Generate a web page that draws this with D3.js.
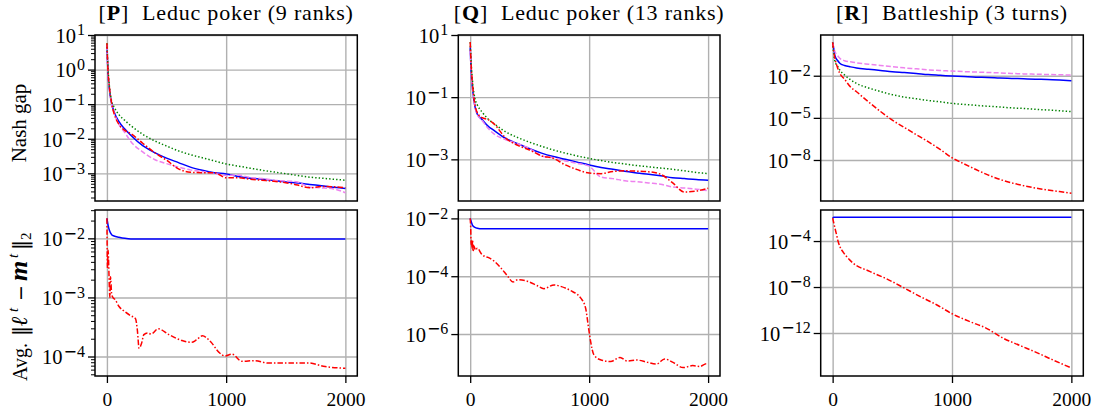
<!DOCTYPE html>
<html><head><meta charset="utf-8">
<script src="https://cdn.jsdelivr.net/npm/d3@7"></script>
<style>
body{margin:0;background:#fff;}
svg{display:block;font-family:"Liberation Serif","Times New Roman",serif;}
</style></head><body>
<svg id="c" width="1098" height="413"></svg>
<script>
// ---- data (values are log10 of the plotted quantity) ----
const iters = [0,10,20,40,60,100,150,200,300,400,500,600,700,800,900,1000,1100,1200,1300,1400,1500,1600,1700,1800,1900,2000];
const xTicks = [0, 1000, 2000];

// [P] Leduc poker (9 ranks) — Nash gap
const pGapBlue   = [0.7,-0.15,-0.55,-0.98,-1.22,-1.5,-1.72,-1.9,-2.2,-2.4,-2.56,-2.69,-2.82,-2.91,-2.98,-3.02,-3.09,-3.14,-3.17,-3.21,-3.25,-3.28,-3.32,-3.36,-3.4,-3.44];
const pGapViolet = [0.7,-0.15,-0.55,-1.0,-1.25,-1.58,-1.82,-2.08,-2.38,-2.6,-2.72,-2.82,-2.9,-2.95,-3.0,-3.06,-3.05,-3.12,-3.15,-3.2,-3.22,-3.25,-3.4,-3.42,-3.45,-3.56];
const pGapGreen  = [0.76,0.0,-0.45,-0.92,-1.08,-1.3,-1.47,-1.62,-1.87,-2.06,-2.21,-2.35,-2.46,-2.55,-2.64,-2.73,-2.79,-2.85,-2.91,-2.96,-3.01,-3.06,-3.11,-3.14,-3.17,-3.2];
const pGapRed    = [0.76,-0.1,-0.48,-0.98,-1.27,-1.58,-1.76,-1.85,-2.13,-2.4,-2.62,-2.87,-2.97,-2.98,-2.98,-3.13,-3.13,-3.17,-3.2,-3.23,-3.27,-3.34,-3.42,-3.38,-3.39,-3.42];
// [P] — Avg. ||l - m||
const pDiffBlue  = [-1.66,-1.78,-1.86,-1.94,-1.96,-1.98,-2.0,-2.01,-2.01,-2.01,-2.01,-2.01,-2.01,-2.01,-2.01,-2.01,-2.01,-2.01,-2.01,-2.01,-2.01,-2.01,-2.01,-2.01,-2.01,-2.01];
const pDiffRedIters = [0,5,10,15,20,25,30,40,50,70,100,150,200,240,255,270,290,310,340,370,430,520,630,710,750,800,870,940,990,1050,1130,1240,1350,1500,1690,1830,2000];
const pDiffRed      = [-1.66,-2.5,-2.2,-2.45,-2.8,-3.0,-2.65,-2.95,-3.0,-3.04,-3.15,-3.24,-3.31,-3.36,-3.55,-3.86,-3.78,-3.63,-3.6,-3.62,-3.53,-3.63,-3.73,-3.76,-3.72,-3.65,-3.75,-3.93,-3.99,-3.96,-4.08,-4.07,-4.11,-4.11,-4.11,-4.17,-4.2];

// [Q] Leduc poker (13 ranks) — Nash gap
const qGapBlue   = [0.6,-0.3,-0.75,-1.3,-1.55,-1.72,-1.93,-2.07,-2.33,-2.5,-2.66,-2.8,-2.91,-3.0,-3.09,-3.18,-3.26,-3.32,-3.38,-3.44,-3.48,-3.53,-3.59,-3.62,-3.65,-3.67];
const qGapViolet = [0.5,-0.3,-0.75,-1.3,-1.55,-1.75,-2.0,-2.18,-2.37,-2.5,-2.65,-2.89,-2.95,-3.05,-3.13,-3.22,-3.57,-3.62,-3.69,-3.72,-3.76,-3.8,-3.89,-3.92,-3.96,-4.01];
const qGapGreen  = [0.77,0.0,-0.5,-1.05,-1.25,-1.48,-1.7,-1.85,-2.12,-2.3,-2.45,-2.58,-2.7,-2.8,-2.89,-2.97,-3.04,-3.1,-3.15,-3.2,-3.24,-3.28,-3.32,-3.37,-3.42,-3.46];
const qGapRed    = [0.77,-0.1,-0.6,-1.25,-1.5,-1.66,-1.72,-1.86,-2.32,-2.55,-2.7,-2.89,-2.97,-3.18,-3.33,-3.44,-3.46,-3.39,-3.37,-3.38,-3.4,-3.48,-3.75,-4.05,-4.02,-3.93];
// [Q] — Avg. ||l - m||
const qDiffBlue  = [-2.0,-2.13,-2.24,-2.31,-2.34,-2.36,-2.36,-2.36,-2.36,-2.36,-2.36,-2.36,-2.36,-2.36,-2.36,-2.36,-2.36,-2.36,-2.36,-2.36,-2.36,-2.36,-2.36,-2.36,-2.36,-2.36];
const qDiffRedIters = [0,4,8,12,16,20,25,30,45,60,95,120,150,205,260,315,360,400,485,565,620,705,760,845,930,970,995,1010,1040,1095,1180,1260,1320,1400,1485,1565,1635,1705,1790,1870,1930,1985,2000];
const qDiffRed      = [-2.0,-2.3,-2.91,-2.75,-3.08,-2.74,-3.14,-2.95,-3.1,-3.03,-3.23,-3.31,-3.35,-3.49,-3.72,-4.0,-4.2,-4.12,-4.18,-4.33,-4.43,-4.3,-4.35,-4.5,-4.76,-5.1,-5.79,-6.2,-6.72,-6.89,-6.95,-6.81,-6.93,-6.9,-6.97,-7.04,-6.86,-6.98,-7.16,-7.09,-7.12,-7.03,-7.03];

// [R] Battleship (3 turns) — Nash gap
const rGapBlue   = [0.37,-0.1,-0.6,-0.9,-1.11,-1.27,-1.37,-1.45,-1.54,-1.62,-1.71,-1.77,-1.84,-1.92,-1.97,-2.02,-2.06,-2.1,-2.12,-2.16,-2.19,-2.22,-2.25,-2.27,-2.31,-2.36];
const rGapViolet = [0.37,0.0,-0.3,-0.55,-0.76,-0.93,-1.01,-1.08,-1.18,-1.27,-1.36,-1.44,-1.51,-1.58,-1.63,-1.67,-1.71,-1.74,-1.77,-1.8,-1.84,-1.87,-1.89,-1.91,-1.93,-1.95];
const rGapGreen  = [0.37,-0.5,-1.0,-1.3,-1.6,-1.95,-2.28,-2.55,-2.87,-3.12,-3.35,-3.52,-3.64,-3.76,-3.86,-3.97,-4.04,-4.11,-4.17,-4.23,-4.29,-4.33,-4.39,-4.44,-4.49,-4.56];
const rGapRed    = [0.37,-0.3,-0.8,-1.4,-1.83,-2.25,-2.8,-3.14,-3.86,-4.54,-5.16,-5.68,-6.19,-6.7,-7.24,-7.84,-8.27,-8.68,-9.06,-9.38,-9.63,-9.83,-10.0,-10.13,-10.25,-10.37];
// [R] — Avg. ||l - m||
const rDiffBlue  = [-2.0,-1.93,-1.93,-1.93,-1.93,-1.93,-1.93,-1.93,-1.93,-1.93,-1.93,-1.93,-1.93,-1.93,-1.93,-1.93,-1.93,-1.93,-1.93,-1.93,-1.93,-1.93,-1.93,-1.93,-1.93,-1.93];
const rDiffRedIters = [0,10,20,33,45,60,90,115,170,310,450,590,730,870,1005,1145,1285,1425,1565,1705,1840,2000];
const rDiffRed      = [-2.0,-2.45,-2.9,-3.45,-4.0,-4.46,-4.99,-5.33,-5.91,-6.64,-7.28,-8.03,-8.81,-9.54,-10.35,-10.99,-11.57,-12.43,-13.07,-13.68,-14.32,-15.04];

// y-axis tick exponents
const pGapTicks = [1,0,-1,-2,-3], pDiffTicks = [-2,-3,-4];
const qGapTicks = [1,-1,-3],      qDiffTicks = [-2,-4,-6];
const rGapTicks = [-2,-5,-8],     rDiffTicks = [-4,-8,-12];

const titles = [["P","Leduc poker (9 ranks)"],["Q","Leduc poker (13 ranks)"],["R","Battleship (3 turns)"]];

// ---- styles ----
const STY = {
  blue:   {color:"#0000ff", dash:null},
  violet: {color:"#ee82ee", dash:"5,2.2"},
  green:  {color:"#008000", dash:"1.4,2.1"},
  red:    {color:"#ff0000", dash:"5.5,2,1.5,2"}
};

const cols = [{x0:95,x1:357.3},{x0:458.3,x1:720},{x0:820.7,x1:1083.3}];
const rows = [{y0:35,y1:201},{y0:210,y1:376}];

const panels = [
  {c:0,r:0,lo:-3.8,hi:1.0,ticks:pGapTicks,minor:true,series:[
    {k:"blue",x:iters,v:pGapBlue},{k:"violet",x:iters,v:pGapViolet},{k:"green",x:iters,v:pGapGreen},{k:"red",x:iters,v:pGapRed}]},
  {c:0,r:1,lo:-4.33,hi:-1.52,ticks:pDiffTicks,minor:true,series:[
    {k:"blue",x:iters,v:pDiffBlue},{k:"red",x:pDiffRedIters,v:pDiffRed}]},
  {c:1,r:0,lo:-4.34,hi:1.0,ticks:qGapTicks,minor:false,series:[
    {k:"blue",x:iters,v:qGapBlue},{k:"violet",x:iters,v:qGapViolet},{k:"green",x:iters,v:qGapGreen},{k:"red",x:iters,v:qGapRed}]},
  {c:1,r:1,lo:-7.45,hi:-1.71,ticks:qDiffTicks,minor:false,series:[
    {k:"blue",x:iters,v:qDiffBlue},{k:"red",x:qDiffRedIters,v:qDiffRed}]},
  {c:2,r:0,lo:-10.92,hi:0.9,ticks:rGapTicks,minor:false,series:[
    {k:"blue",x:iters,v:rGapBlue},{k:"violet",x:iters,v:rGapViolet},{k:"green",x:iters,v:rGapGreen},{k:"red",x:iters,v:rGapRed}]},
  {c:2,r:1,lo:-15.74,hi:-1.3,ticks:rDiffTicks,minor:false,series:[
    {k:"blue",x:iters,v:rDiffBlue},{k:"red",x:rDiffRedIters,v:rDiffRed}]}
];

const svg = d3.select("#c");
const TICK_FS = 20.5, SUP_FS = 16, XTICK_FS = 19.5;

panels.forEach((p,i)=>{
  const {x0,x1} = cols[p.c], {y0,y1} = rows[p.r];
  const x = d3.scaleLinear().domain([-100,2100]).range([x0,x1]);
  const y = d3.scaleLog().domain([Math.pow(10,p.lo),Math.pow(10,p.hi)]).range([y1,y0]);
  const g = svg.append("g");
  const majors = p.ticks.map(e=>Math.pow(10,e));

  // grid
  g.append("g").attr("transform",`translate(0,${y1})`)
    .call(d3.axisBottom(x).tickValues(xTicks).tickSize(-(y1-y0)).tickFormat(""))
    .call(s=>s.select(".domain").remove())
    .selectAll("line").attr("stroke","#b0b0b0").attr("stroke-width",1.4);
  g.append("g").attr("transform",`translate(${x0},0)`)
    .call(d3.axisLeft(y).tickValues(majors).tickSize(-(x1-x0)).tickFormat(""))
    .call(s=>s.select(".domain").remove())
    .selectAll("line").attr("stroke","#b0b0b0").attr("stroke-width",1.4);

  // clip
  const cid = "clip"+i;
  g.append("clipPath").attr("id",cid).append("rect")
    .attr("x",x0).attr("y",y0).attr("width",x1-x0).attr("height",y1-y0);

  const line = d3.line().x(d=>x(d[0])).y(d=>y(d[1])).curve(d3.curveMonotoneX);
  const lg = g.append("g").attr("clip-path",`url(#${cid})`);
  p.series.forEach(s=>{
    const pts = s.x.map((t,j)=>[t,Math.pow(10,s.v[j])]);
    const st = STY[s.k];
    lg.append("path").datum(pts).attr("d",line)
      .attr("fill","none").attr("stroke",st.color).attr("stroke-width",1.5)
      .attr("stroke-dasharray",st.dash).attr("stroke-linejoin","round");
  });

  // frame
  g.append("rect").attr("x",x0).attr("y",y0).attr("width",x1-x0).attr("height",y1-y0)
    .attr("fill","none").attr("stroke","#000").attr("stroke-width",1.5);

  // y axis major
  const ya = g.append("g").attr("transform",`translate(${x0},0)`)
    .call(d3.axisLeft(y).tickValues(majors).tickSize(7).tickPadding(3).tickFormat(""));
  ya.select(".domain").remove();
  ya.selectAll(".tick line").attr("stroke","#000").attr("stroke-width",1.3);
  ya.selectAll(".tick text").each(function(d){
    const e = Math.round(Math.log10(d));
    const t = d3.select(this).attr("font-family",'"Liberation Serif",serif').attr("font-size",TICK_FS).attr("fill","#000").attr("dy","0.36em");
    t.text(null);
    t.append("tspan").text("10");
    if(e<0){
      t.append("tspan").attr("dy",-7.5).attr("dx",1).attr("font-size",SUP_FS).attr("font-family",'"DejaVu Sans",sans-serif').text("\u2212");
      t.append("tspan").attr("font-size",SUP_FS).text(String(-e));
    } else {
      t.append("tspan").attr("dy",-7.5).attr("dx",1).attr("font-size",SUP_FS).text(String(e));
    }
  });
  // minor ticks
  if(p.minor){
    const minors = [];
    for(let e=Math.floor(p.lo); e<=Math.ceil(p.hi); e++)
      for(let m=2;m<=9;m++){ const v=m*Math.pow(10,e); const lv=Math.log10(v); if(lv>=p.lo && lv<=p.hi) minors.push(v); }
    const ym = g.append("g").attr("transform",`translate(${x0},0)`)
      .call(d3.axisLeft(y).tickValues(minors).tickSize(4).tickFormat(""));
    ym.select(".domain").remove();
    ym.selectAll(".tick line").attr("stroke","#000").attr("stroke-width",1);
  }
  // x axis
  if(p.r===1){
    const xa = g.append("g").attr("transform",`translate(0,${y1})`)
      .call(d3.axisBottom(x).tickValues(xTicks).tickSize(7).tickPadding(9).tickFormat(d3.format("d")));
    xa.select(".domain").remove();
    xa.selectAll(".tick line").attr("stroke","#000").attr("stroke-width",1.3);
    xa.selectAll(".tick text").attr("font-family",'"Liberation Serif",serif').attr("font-size",XTICK_FS).attr("fill","#000");
  }
});

// titles
titles.forEach((tt,i)=>{
  const cx = (cols[i].x0+cols[i].x1)/2;
  const t = svg.append("text").attr("x",cx).attr("y",20).attr("text-anchor","middle")
    .attr("font-size",22).attr("letter-spacing",0.8).attr("fill","#000");
  t.append("tspan").text("[");
  t.append("tspan").attr("font-weight","bold").text(tt[0]);
  t.append("tspan").text("]");
  t.append("tspan").attr("dx",13).text(tt[1]);
});

// y labels
svg.append("text").attr("transform","translate(26,123) rotate(-90)").attr("text-anchor","middle")
  .attr("font-size",21).attr("fill","#000").text("Nash gap");

// bottom y label pieces placed along the rotated axis (x = -y in page coords)
const ylab = svg.append("g").attr("transform","translate(27,0) rotate(-90)").attr("fill","#000");
const piece = (pos, txt, opts={}) => {
  const t = ylab.append("text").attr("x",-pos).attr("y",opts.dy||0)
    .attr("font-size",opts.fs||21).text(txt);
  if(opts.bold) t.attr("font-weight","bold");
  if(opts.italic) t.attr("font-style","italic");
  if(opts.family) t.attr("font-family",opts.family);
};
piece(381,"Avg.",{fs:20});
piece(336,"\u2016",{family:'"DejaVu Serif",serif',fs:20});
piece(326,"\u2113",{bold:true,italic:true,fs:23,family:'"DejaVu Serif",serif'});
piece(312,"t",{italic:true,fs:15,dy:-9});
piece(301,"\u2212",{family:'"DejaVu Sans",sans-serif',fs:19});
piece(281,"m",{bold:true,italic:true,fs:26});
piece(258,"t",{italic:true,fs:15,dy:-9});
piece(250,"\u2016",{family:'"DejaVu Serif",serif',fs:20});
piece(240,"2",{fs:15,dy:4});
</script>
</body></html>
